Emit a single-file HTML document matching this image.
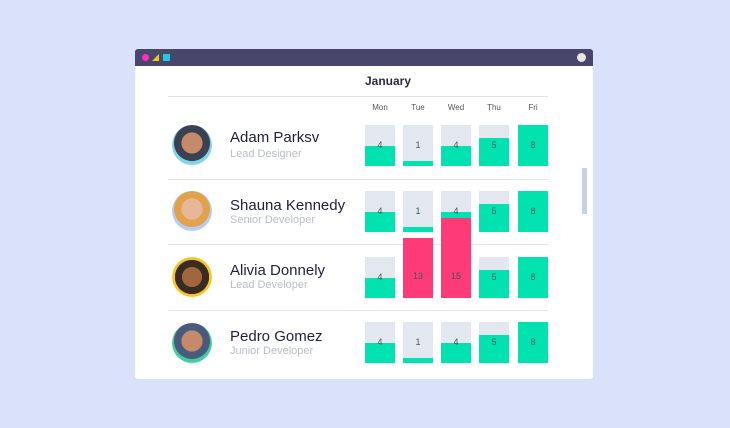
<!DOCTYPE html><html><head><style>
body{margin:0;width:730px;height:428px;background:#d9e1fb;position:relative;overflow:hidden;font-family:"Liberation Sans",sans-serif}
.a{position:absolute}
.win{left:135px;top:49px;width:458px;height:330px;background:#fff;border-radius:3px;overflow:hidden}
.bar{position:absolute;top:0;left:0;width:458px;height:17px;background:#48466b}
.sep{position:absolute;left:168px;width:380px;height:1px;background:#e2e4ea}
.bg{position:absolute;width:30px;background:#e3e8f0}
.f{position:absolute;left:0;right:0;bottom:0;background:#00e3b0}
.n{position:absolute;width:100%;text-align:center;font-size:9px;color:#3c5a58}
.nm{position:absolute;left:230px;font-size:15px;color:#1f1f3a}
.sb{position:absolute;left:230px;font-size:11px;color:#b9bdc9}
.av{position:absolute;left:172px;width:40px;height:40px;border-radius:50%}
.d{position:absolute;top:103px;font-size:8px;color:#555;width:30px;text-align:center}
</style></head><body>
<div class="a win"><div class="bar">
<div class="a" style="left:7px;top:5px;width:7px;height:7px;border-radius:50%;background:#ff2fb4"></div>
<div class="a" style="left:17px;top:5px;width:0;height:0;border-left:7px solid transparent;border-bottom:7px solid #f5c518"></div>
<div class="a" style="left:28px;top:5px;width:7px;height:7px;background:#1ec8e6"></div>
<div class="a" style="left:442px;top:4px;width:9px;height:9px;border-radius:50%;background:#e6e6e6"></div>
</div></div>
<div class="a" style="left:365px;top:74px;font-size:12px;font-weight:bold;color:#2a2a44">January</div>
<div class="sep" style="top:96px"></div><div class="sep" style="top:179px"></div><div class="sep" style="top:244px"></div><div class="sep" style="top:310px"></div>
<div class="d" style="left:365px">Mon</div><div class="d" style="left:403px">Tue</div><div class="d" style="left:441px">Wed</div><div class="d" style="left:479px">Thu</div><div class="d" style="left:518px">Fri</div>
<div class="a" style="left:582px;top:168px;width:5px;height:46px;background:#c9d2de"></div>

<div class="av" style="top:125px;background:radial-gradient(circle at 50% 45%,#c58a6a 0 35%,#3a4150 36% 60%,#7fd3ea 61%)"></div>
<div class="av" style="top:191px;background:radial-gradient(circle at 50% 45%,#e8b79a 0 35%,#e2a14c 36% 60%,#b7cdf0 61%)"></div>
<div class="av" style="top:257px;background:radial-gradient(circle at 50% 50%,#a0673f 0 35%,#3a2a1f 36% 60%,#f2c92c 61%)"></div>
<div class="av" style="top:323px;background:radial-gradient(circle at 50% 45%,#c58a6a 0 35%,#4a5a7a 36% 60%,#3fd0a0 61%)"></div>

<div class="nm" style="top:129px">Adam Parksv</div><div class="sb" style="top:148px">Lead Designer</div>
<div class="nm" style="top:197px">Shauna Kennedy</div><div class="sb" style="top:214px">Senior Developer</div>
<div class="nm" style="top:262px">Alivia Donnely</div><div class="sb" style="top:279px">Lead Developer</div>
<div class="nm" style="top:328px">Pedro Gomez</div><div class="sb" style="top:345px">Junior Developer</div>

<!-- row1 -->
<div class="bg" style="left:365px;top:125px;height:41px"><div class="f" style="height:20px"></div><div class="n" style="top:15px">4</div></div>
<div class="bg" style="left:403px;top:125px;height:41px"><div class="f" style="height:5px"></div><div class="n" style="top:15px">1</div></div>
<div class="bg" style="left:441px;top:125px;height:41px"><div class="f" style="height:20px"></div><div class="n" style="top:15px">4</div></div>
<div class="bg" style="left:479px;top:125px;height:41px"><div class="f" style="height:28px"></div><div class="n" style="top:15px">5</div></div>
<div class="bg" style="left:518px;top:125px;height:41px"><div class="f" style="height:41px"></div><div class="n" style="top:15px">8</div></div>
<!-- row2 -->
<div class="bg" style="left:365px;top:191px;height:41px"><div class="f" style="height:20px"></div><div class="n" style="top:15px">4</div></div>
<div class="bg" style="left:403px;top:191px;height:41px"><div class="f" style="height:5px"></div><div class="n" style="top:15px">1</div></div>
<div class="bg" style="left:441px;top:191px;height:41px"><div class="f" style="height:20px"></div><div class="n" style="top:15px">4</div></div>
<div class="bg" style="left:479px;top:191px;height:41px"><div class="f" style="height:28px"></div><div class="n" style="top:15px">5</div></div>
<div class="bg" style="left:518px;top:191px;height:41px"><div class="f" style="height:41px"></div><div class="n" style="top:15px">8</div></div>
<!-- row3 -->
<div class="bg" style="left:365px;top:257px;height:41px"><div class="f" style="height:20px"></div><div class="n" style="top:15px">4</div></div>
<div class="bg" style="left:403px;top:238px;height:60px;background:#ff3a78"><div class="n" style="top:33px">13</div></div>
<div class="bg" style="left:441px;top:218px;height:80px;background:#ff3a78"><div class="n" style="top:53px">15</div></div>
<div class="bg" style="left:479px;top:257px;height:41px"><div class="f" style="height:28px"></div><div class="n" style="top:15px">5</div></div>
<div class="bg" style="left:518px;top:257px;height:41px"><div class="f" style="height:41px"></div><div class="n" style="top:15px">8</div></div>
<!-- row4 -->
<div class="bg" style="left:365px;top:322px;height:41px"><div class="f" style="height:20px"></div><div class="n" style="top:15px">4</div></div>
<div class="bg" style="left:403px;top:322px;height:41px"><div class="f" style="height:5px"></div><div class="n" style="top:15px">1</div></div>
<div class="bg" style="left:441px;top:322px;height:41px"><div class="f" style="height:20px"></div><div class="n" style="top:15px">4</div></div>
<div class="bg" style="left:479px;top:322px;height:41px"><div class="f" style="height:28px"></div><div class="n" style="top:15px">5</div></div>
<div class="bg" style="left:518px;top:322px;height:41px"><div class="f" style="height:41px"></div><div class="n" style="top:15px">8</div></div>
</body></html>
